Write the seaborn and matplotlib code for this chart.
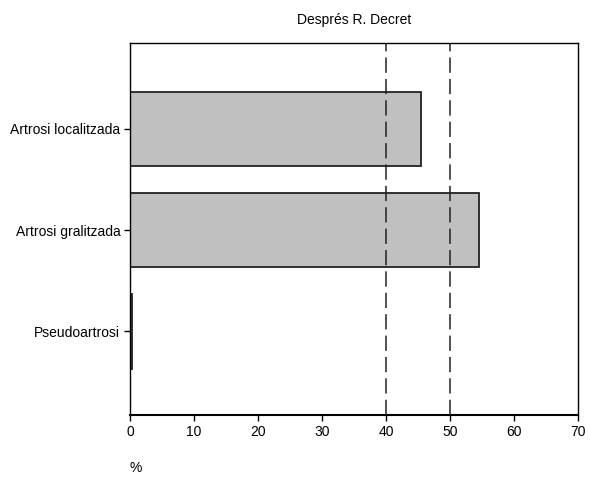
import matplotlib
matplotlib.use('Agg')
import matplotlib.pyplot as plt
import seaborn as sns
import pandas as pd

# data
categories = ['Artrosi localitzada', 'Artrosi gralitzada', 'Pseudoartrosi']
percent = [45.5, 54.6, 0.3]
ref_lines = [40, 50]

sns.set_style('white')
plt.rcParams['font.family'] = ['Liberation Sans', 'DejaVu Sans']
plt.rcParams['font.size'] = 10
plt.rcParams['text.color'] = 'black'
plt.rcParams['axes.labelcolor'] = 'black'

df = pd.DataFrame({'cat': categories, 'pct': percent})

fig = plt.figure(figsize=(5.9, 4.78), dpi=100)
ax = fig.add_axes([130 / 590, 1 - 415 / 478, 448 / 590, 372 / 478])

sns.barplot(data=df, x='pct', y='cat', orient='h', color='#c0c0c0',
            saturation=1, edgecolor='#222222', linewidth=1.3, width=0.74, ax=ax)

for v in ref_lines:
    ax.axvline(v, color='#222222', lw=1.1, ls=(0, (10, 4)), zorder=3)

ax.set_xlim(0, 70)
ax.set_ylim(2.83, -0.85)
ax.set_xticks(range(0, 71, 10))
ax.set_xlabel('')
ax.set_ylabel('')
for s in ax.spines.values():
    s.set_color('black')
    s.set_linewidth(1.0)
ax.spines['bottom'].set_linewidth(1.5)
ax.tick_params(axis='both', direction='out', length=4, width=1, colors='black',
               labelsize=10, bottom=True, left=True, pad=3)

ax.set_title('Després R. Decret', fontsize=10, pad=14, color='black')
fig.text(136 / 590, 1 - 468 / 478, '%', fontsize=10, ha='center', va='center')

fig.savefig('out.png', dpi=100)
